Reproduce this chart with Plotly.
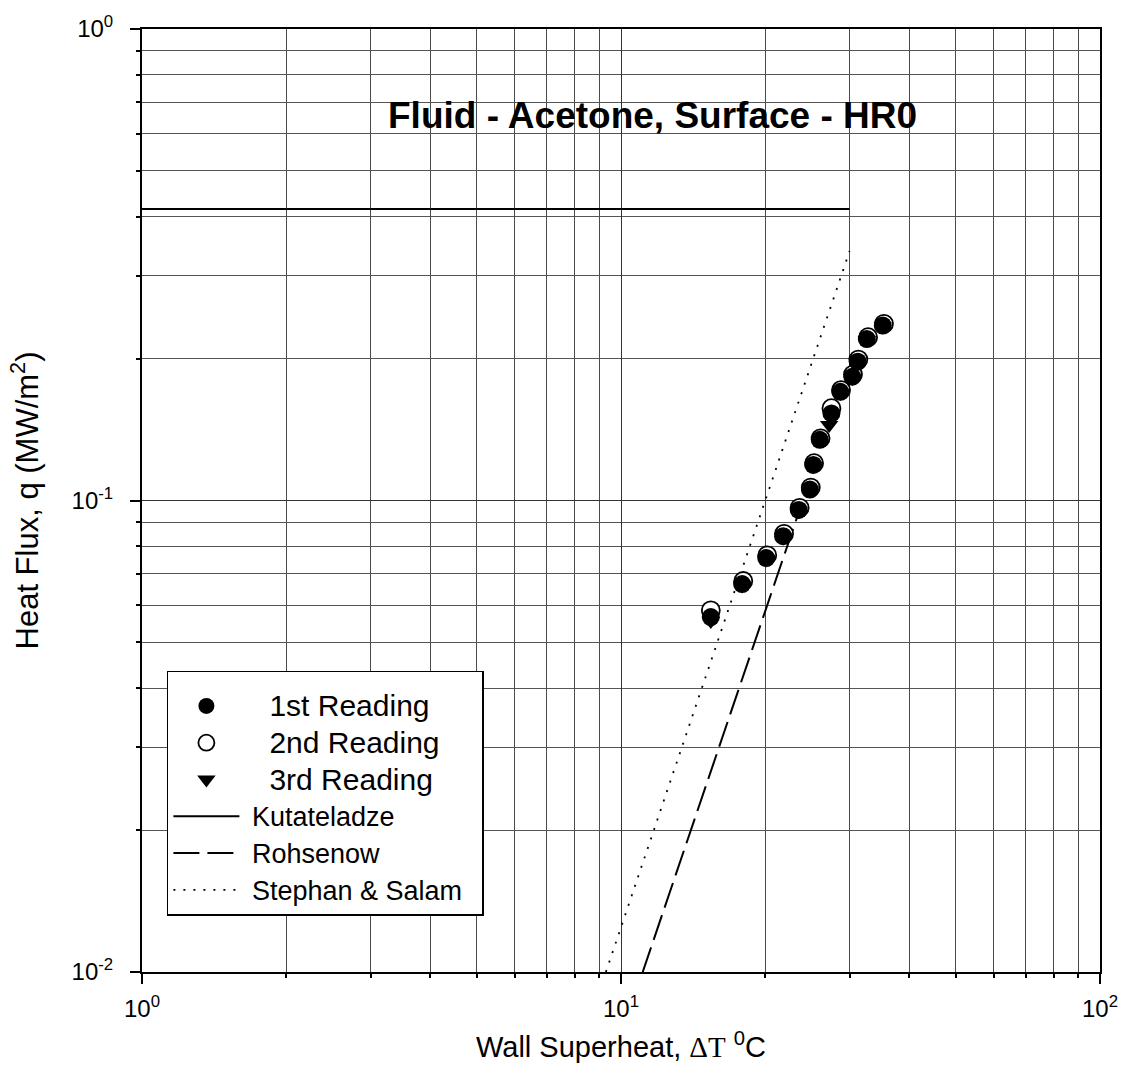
import plotly.graph_objects as go

# ---- data ----
dT_1 = [15.4, 17.9, 20.1, 21.8, 23.5, 24.8, 25.2, 26.0, 27.5, 28.7, 30.4, 31.2, 32.6, 35.2]
q_1 = [0.0566, 0.0665, 0.0755, 0.0840, 0.0955, 0.1055, 0.1190, 0.1345, 0.1530, 0.1700, 0.1830, 0.1970, 0.2200, 0.2350]

dT_2 = [15.4, 18.0, 20.2, 21.9, 23.6, 24.9, 25.3, 26.1, 27.5, 28.8, 30.5, 31.3, 32.8, 35.4]
q_2 = [0.0585, 0.0675, 0.0765, 0.0850, 0.0965, 0.1065, 0.1200, 0.1355, 0.1570, 0.1715, 0.1850, 0.1990, 0.2220, 0.2370]

dT_3 = [15.4, 17.9, 20.1, 21.8, 23.5, 24.8, 25.2, 26.0, 27.2, 28.7, 30.4, 31.2, 32.6, 35.2]
q_3 = [0.0555, 0.0660, 0.0750, 0.0835, 0.0950, 0.1050, 0.1185, 0.1340, 0.1445, 0.1690, 0.1820, 0.1960, 0.2190, 0.2340]

kut_dT = [1.0, 30.0]
kut_q = [0.415, 0.415]

roh_dT = [11.1, 23.3]
roh_q = [0.0100, 0.0920]

ss_dT = [9.3, 30.0]
ss_q = [0.0100, 0.338]

x_tickvals = [1, 10, 100]
x_ticktext = ["10<sup>0</sup>", "10<sup>1</sup>", "10<sup>2</sup>"]
y_tickvals = [0.01, 0.1, 1]
y_ticktext = ["10<sup>-2</sup>", "10<sup>-1</sup>", "10<sup>0</sup>"]
x_minor = [2, 3, 4, 5, 6, 7, 8, 9, 20, 30, 40, 50, 60, 70, 80, 90]
y_minor = [0.02, 0.03, 0.04, 0.05, 0.06, 0.07, 0.08, 0.09,
           0.2, 0.3, 0.4, 0.5, 0.6, 0.7, 0.8, 0.9]

FONT = "Liberation Sans, Arial, sans-serif"
NB = "\u00a0"

def big(t):
    return f'<span style="font-size:30px">{NB}{NB}{NB}{t}</span>'

def small(t):
    return f'<span style="font-size:27px">{NB}{t}{NB}{NB}</span>'

fig = go.Figure()

# correlation lines
fig.add_trace(go.Scatter(x=kut_dT, y=kut_q, mode="lines", name=small("Kutateladze"),
                         line=dict(color="black", width=2), legendrank=4))
fig.add_trace(go.Scatter(x=roh_dT, y=roh_q, mode="lines", name=small("Rohsenow"),
                         line=dict(color="black", width=2, dash="26px,8px"), legendrank=5))
fig.add_trace(go.Scatter(x=ss_dT, y=ss_q, mode="lines", name=small("Stephan &amp; Salam"),
                         line=dict(color="black", width=1.8, dash="2px,8px"), legendrank=6))

# experimental readings
fig.add_trace(go.Scatter(x=dT_2, y=q_2, mode="markers", name=big("2nd Reading"),
                         marker=dict(symbol="circle", size=18, color="white",
                                     line=dict(color="black", width=1.8)), legendrank=2))
fig.add_trace(go.Scatter(x=dT_3, y=q_3, mode="markers", name=big("3rd Reading"),
                         marker=dict(symbol="triangle-down", size=16, color="black",
                                     line=dict(color="black", width=0)), legendrank=3))
fig.add_trace(go.Scatter(x=dT_1, y=q_1, mode="markers", name=big("1st Reading"),
                         marker=dict(symbol="circle", size=18, color="black",
                                     line=dict(color="black", width=0)), legendrank=1))

fig.add_annotation(text="<b>Fluid - Acetone, Surface - HR0</b>",
                   xref="paper", yref="paper", x=0.533, y=0.908,
                   xanchor="center", yanchor="middle", showarrow=False,
                   font=dict(family=FONT, size=37, color="black"))

axis_common = dict(
    type="log", showline=True, linecolor="black", linewidth=2, mirror=True,
    ticks="outside", ticklen=10, tickwidth=1.5, tickcolor="black",
    showgrid=True, gridcolor="#333333", gridwidth=1,
    zeroline=False, tickfont=dict(family=FONT, size=24, color="black"),
)

fig.update_xaxes(
    **axis_common, range=[0, 2], tickmode="array", tickvals=x_tickvals, ticktext=x_ticktext,
    ticklabelstandoff=4,
    minor=dict(tickmode="array", tickvals=x_minor, showgrid=True, gridcolor="#4a4a4a",
               gridwidth=1, ticks="outside", ticklen=4, tickcolor="black"),
    title=dict(text='Wall Superheat, <span style="font-family:\'Liberation Serif\'">\u0394T</span> <sup>0</sup>C',
               font=dict(family=FONT, size=29, color="black"), standoff=16),
)
fig.update_yaxes(
    **axis_common, range=[-2, 0], tickmode="array", tickvals=y_tickvals, ticktext=y_ticktext,
    ticklabelstandoff=12,
    minor=dict(tickmode="array", tickvals=y_minor, showgrid=True, gridcolor="#555555",
               gridwidth=1, ticks="outside", ticklen=4, tickcolor="black"),
    title=dict(text="Heat Flux, q (MW/m<sup>2</sup>)",
               font=dict(family=FONT, size=31, color="black"), standoff=24),
)

fig.update_layout(
    width=1130, height=1090,
    margin=dict(l=142, r=26, t=24, b=118),
    paper_bgcolor="white", plot_bgcolor="white",
    font=dict(family=FONT, color="black"),
    showlegend=True,
    legend=dict(x=0.026, y=0.3196, xanchor="left", yanchor="top",
                bgcolor="white", bordercolor="black", borderwidth=1.5,
                font=dict(family=FONT, size=26, color="black"),
                title=dict(text=" ", font=dict(size=8)),
                itemwidth=66, itemsizing="trace", tracegroupgap=0),
)

fig.write_html("out.html")
